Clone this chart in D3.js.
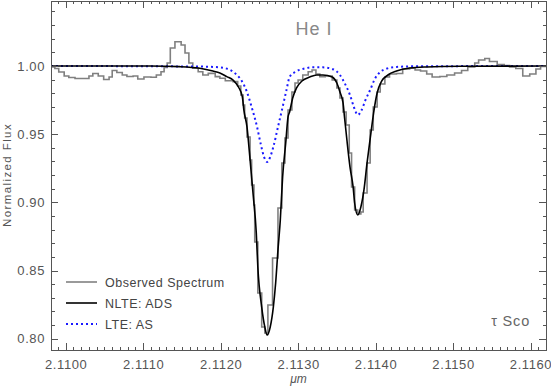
<!DOCTYPE html>
<html>
<head>
<meta charset="utf-8">
<script src="https://cdn.jsdelivr.net/npm/d3@7"></script>
<style>
  body { margin: 0; background: #fff; }
  svg { display: block; font-family: "Liberation Sans", Arial, sans-serif; }
  .axis path, .axis line { stroke: #555; stroke-width: 1; shape-rendering: crispEdges; }
  .axis text { fill: #555; font-size: 13px; letter-spacing: 0.6px; }
</style>
</head>
<body>
<div id="chart"></div>
<script>
// Observed spectrum (step start wavelength in micron, normalized flux)
const obsWave = [2.10981, 2.10986, 2.10991, 2.10998, 2.11004, 2.11012, 2.11030, 2.11035, 2.11042, 2.11049,
  2.11056, 2.11060, 2.11066, 2.11073, 2.11079, 2.11087, 2.11093, 2.11101, 2.11110, 2.11117,
  2.11123, 2.11127, 2.11131, 2.11135, 2.11141, 2.11149, 2.11154, 2.11159, 2.11164, 2.11171,
  2.11177, 2.11184, 2.11193, 2.11199, 2.11206, 2.11216, 2.11222, 2.11226, 2.11229, 2.11231,
  2.11234, 2.11238, 2.11240, 2.11243, 2.11244, 2.11248, 2.11253, 2.11257, 2.11261, 2.11267,
  2.11274, 2.11279, 2.11283, 2.11287, 2.11292, 2.11296, 2.11300, 2.11306, 2.11313, 2.11318,
  2.11323, 2.11328, 2.11335, 2.11344, 2.11350, 2.11354, 2.11358, 2.11362, 2.11366, 2.11369,
  2.11373, 2.11377, 2.11381, 2.11384, 2.11389, 2.11393, 2.11397, 2.11402, 2.11406, 2.11412,
  2.11418, 2.11427, 2.11435, 2.11444, 2.11451, 2.11458, 2.11466, 2.11473, 2.11483, 2.11492,
  2.11502, 2.11511, 2.11519, 2.11528, 2.11533, 2.11541, 2.11547, 2.11557, 2.11566, 2.11573,
  2.11581, 2.11590, 2.11599, 2.11607, 2.11613, 2.11620];
const obsFlux = [0.9993, 0.9982, 0.9956, 0.9927, 0.9916, 0.9908, 0.9927, 0.9945, 0.9927, 0.9901,
  0.9919, 0.9967, 0.9952, 0.9934, 0.9923, 0.9927, 0.9905, 0.9919, 0.9917, 0.9934,
  0.9958, 0.9989, 1.0022, 1.0132, 1.0178, 1.0154, 1.0095, 1.0022, 0.9983, 0.9958,
  0.9934, 0.9946, 0.9922, 0.9910, 0.9892, 0.9885, 0.9853, 0.9787, 0.9714, 0.9619,
  0.9479, 0.9311, 0.9127, 0.8981, 0.8709, 0.8335, 0.8086, 0.8042, 0.8247, 0.8592,
  0.8959, 0.9289, 0.9472, 0.9677, 0.9809, 0.9875, 0.9897, 0.9934, 0.9958, 0.9971,
  0.9941, 0.9922, 0.9927, 0.9897, 0.9839, 0.9765, 0.9663, 0.9567, 0.9362, 0.9113,
  0.8944, 0.8915, 0.8929, 0.9069, 0.9289, 0.9531, 0.9699, 0.9809, 0.9868, 0.9919,
  0.9941, 0.9945, 0.9978, 0.9983, 0.9971, 0.9963, 0.9941, 0.9919, 0.9923, 0.9934,
  0.9949, 0.9967, 0.9993, 1.0022, 1.0044, 1.0055, 1.0033, 1.0011, 1.0004, 0.9993,
  0.9982, 0.9927, 0.9941, 0.9978, 0.9996, 0.9996];

// NLTE: ADS model
const nlteWave = [2.10981, 2.11044, 2.11109, 2.11147, 2.11173, 2.11190, 2.11199, 2.11208, 2.11216, 2.11223,
  2.11228, 2.11230, 2.11234, 2.11238, 2.11242, 2.11246, 2.11248, 2.11253, 2.11257, 2.11260,
  2.11264, 2.11268, 2.11271, 2.11274, 2.11277, 2.11280, 2.11284, 2.11287, 2.11289, 2.11293,
  2.11298, 2.11305, 2.11315, 2.11324, 2.11332, 2.11344, 2.11350, 2.11354, 2.11358, 2.11360,
  2.11363, 2.11367, 2.11371, 2.11373, 2.11377, 2.11381, 2.11385, 2.11389, 2.11394, 2.11398,
  2.11402, 2.11408, 2.11416, 2.11427, 2.11444, 2.11466, 2.11509, 2.11620];
const nlteFlux = [1.0000, 1.0000, 1.0000, 0.9995, 0.9983, 0.9963, 0.9949, 0.9922, 0.9897, 0.9846,
  0.9773, 0.9677, 0.9553, 0.9311, 0.9054, 0.8775, 0.8526, 0.8232, 0.8086, 0.8027,
  0.8086, 0.8232, 0.8408, 0.8651, 0.8871, 0.9186, 0.9435, 0.9626, 0.9663, 0.9765,
  0.9839, 0.9890, 0.9919, 0.9934, 0.9934, 0.9919, 0.9875, 0.9809, 0.9729, 0.9619,
  0.9457, 0.9259, 0.9113, 0.8995, 0.8907, 0.8966, 0.9091, 0.9289, 0.9509, 0.9677,
  0.9802, 0.9890, 0.9934, 0.9963, 0.9985, 0.9993, 0.9998, 1.0000];

// LTE: AS model
const lteWave = [2.10981, 2.11173, 2.11199, 2.11212, 2.11221, 2.11228, 2.11234, 2.11240, 2.11247, 2.11252,
  2.11256, 2.11260, 2.11264, 2.11268, 2.11274, 2.11280, 2.11285, 2.11289, 2.11296, 2.11306,
  2.11319, 2.11332, 2.11345, 2.11354, 2.11360, 2.11367, 2.11372, 2.11377, 2.11382, 2.11387,
  2.11393, 2.11399, 2.11406, 2.11415, 2.11427, 2.11457, 2.11620];
const lteFlux = [1.0000, 0.9996, 0.9990, 0.9971, 0.9934, 0.9883, 0.9809, 0.9699, 0.9553, 0.9421,
  0.9333, 0.9296, 0.9333, 0.9406, 0.9553, 0.9699, 0.9824, 0.9919, 0.9956, 0.9978,
  0.9990, 0.9990, 0.9976, 0.9934, 0.9875, 0.9787, 0.9699, 0.9641, 0.9677, 0.9751,
  0.9824, 0.9905, 0.9956, 0.9982, 0.9993, 0.9998, 1.0000];

const xTicks = [2.1100, 2.1110, 2.1120, 2.1130, 2.1140, 2.1150, 2.1160];
const yTicks = [0.80, 0.85, 0.90, 0.95, 1.00];
const legendLabels = ["Observed Spectrum", "NLTE: ADS", "LTE: AS"];

const width = 551, height = 388;
const plotLeft = 51, plotRight = 546, plotTop = 0.5, plotBottom = 350;

const svg = d3.select("#chart").append("svg")
  .attr("width", width)
  .attr("height", height);

const x = d3.scaleLinear().domain([2.10981, 2.11620]).range([plotLeft, plotRight]);
const y = d3.scaleLinear().domain([0.7917, 1.0484]).range([plotBottom, 0]);

svg.append("clipPath").attr("id", "plotclip")
  .append("rect")
  .attr("x", plotLeft).attr("y", 0)
  .attr("width", plotRight - plotLeft).attr("height", plotBottom);

const plot = svg.append("g").attr("clip-path", "url(#plotclip)");

// curves
const obsLine = d3.line().x(d => x(d[0])).y(d => y(d[1])).curve(d3.curveStepAfter);
const smooth = d3.line().x(d => x(d[0])).y(d => y(d[1])).curve(d3.curveMonotoneX);

plot.append("path")
  .datum(d3.zip(obsWave, obsFlux))
  .attr("d", obsLine)
  .attr("fill", "none")
  .attr("stroke", "#808080")
  .attr("stroke-width", 1.6);

plot.append("path")
  .datum(d3.zip(lteWave, lteFlux))
  .attr("d", smooth)
  .attr("fill", "none")
  .attr("stroke", "#1a1aff")
  .attr("stroke-width", 2)
  .attr("stroke-dasharray", "2,3");

plot.append("path")
  .datum(d3.zip(nlteWave, nlteFlux))
  .attr("d", smooth)
  .attr("fill", "none")
  .attr("stroke", "#000")
  .attr("stroke-width", 1.6);

// axes: major + minor ticks on all four sides
const xMinor = d3.range(2.1099, 2.11625, 0.0001).filter(v => x(v) >= plotLeft && x(v) <= plotRight);
const yMinor = d3.range(0.80, 1.045, 0.01);

function drawAxis(axisFn, pos, major, minor, labels) {
  const g = svg.append("g").attr("class", "axis").attr("transform", pos);
  g.call(axisFn.tickValues(minor).tickSize(-3.5).tickSizeOuter(0).tickFormat(""));
  const m = svg.append("g").attr("class", "axis").attr("transform", pos);
  m.call(axisFn.tickValues(major).tickSize(-7).tickSizeOuter(0).tickFormat(labels || (() => "")));
  m.select(".domain").remove();
  return m;
}

drawAxis(d3.axisBottom(x), `translate(0,${plotBottom})`, xTicks, xMinor, d3.format(".4f"))
  .selectAll("text").attr("y", 10);
drawAxis(d3.axisTop(x), `translate(0,${plotTop})`, xTicks, xMinor, null);
drawAxis(d3.axisLeft(y), `translate(${plotLeft},0)`, yTicks, yMinor, d3.format(".2f"))
  .selectAll("text").attr("x", -6);
drawAxis(d3.axisRight(y), `translate(${plotRight},0)`, yTicks, yMinor, null);

// axis titles
svg.append("text")
  .attr("x", (plotLeft + plotRight) / 2).attr("y", 383)
  .attr("text-anchor", "middle")
  .attr("font-size", 12).attr("fill", "#555")
  .attr("font-style", "italic")
  .text("\u03bcm");

svg.append("text")
  .attr("transform", `translate(11,${plotBottom / 2}) rotate(-90)`)
  .attr("text-anchor", "middle")
  .attr("font-size", 11.5).attr("fill", "#555")
  .attr("letter-spacing", 1.4)
  .text("Normalized Flux");

// annotations
svg.append("text")
  .attr("x", 314).attr("y", 35)
  .attr("text-anchor", "middle")
  .attr("font-size", 18).attr("fill", "#888")
  .attr("letter-spacing", 1)
  .text("He I");

svg.append("text")
  .attr("x", 530).attr("y", 326)
  .attr("text-anchor", "end")
  .attr("font-size", 14.5).attr("fill", "#666")
  .attr("letter-spacing", 0.8)
  .text("\u03c4 Sco");

// legend
const legendStyles = [
  { stroke: "#808080", dash: null, w: 1.6 },
  { stroke: "#000", dash: null, w: 1.6 },
  { stroke: "#1a1aff", dash: "2,3", w: 2 }
];
const legend = svg.append("g");
legendLabels.forEach((label, i) => {
  const ly = 282 + i * 21;
  legend.append("line")
    .attr("x1", 66).attr("x2", 97)
    .attr("y1", ly).attr("y2", ly)
    .attr("stroke", legendStyles[i].stroke)
    .attr("stroke-width", legendStyles[i].w)
    .attr("stroke-dasharray", legendStyles[i].dash);
  legend.append("text")
    .attr("x", 105).attr("y", ly + 4.5)
    .attr("font-size", 12.5).attr("fill", "#444")
    .attr("letter-spacing", 0.5)
    .text(label);
});
</script>
</body>
</html>
